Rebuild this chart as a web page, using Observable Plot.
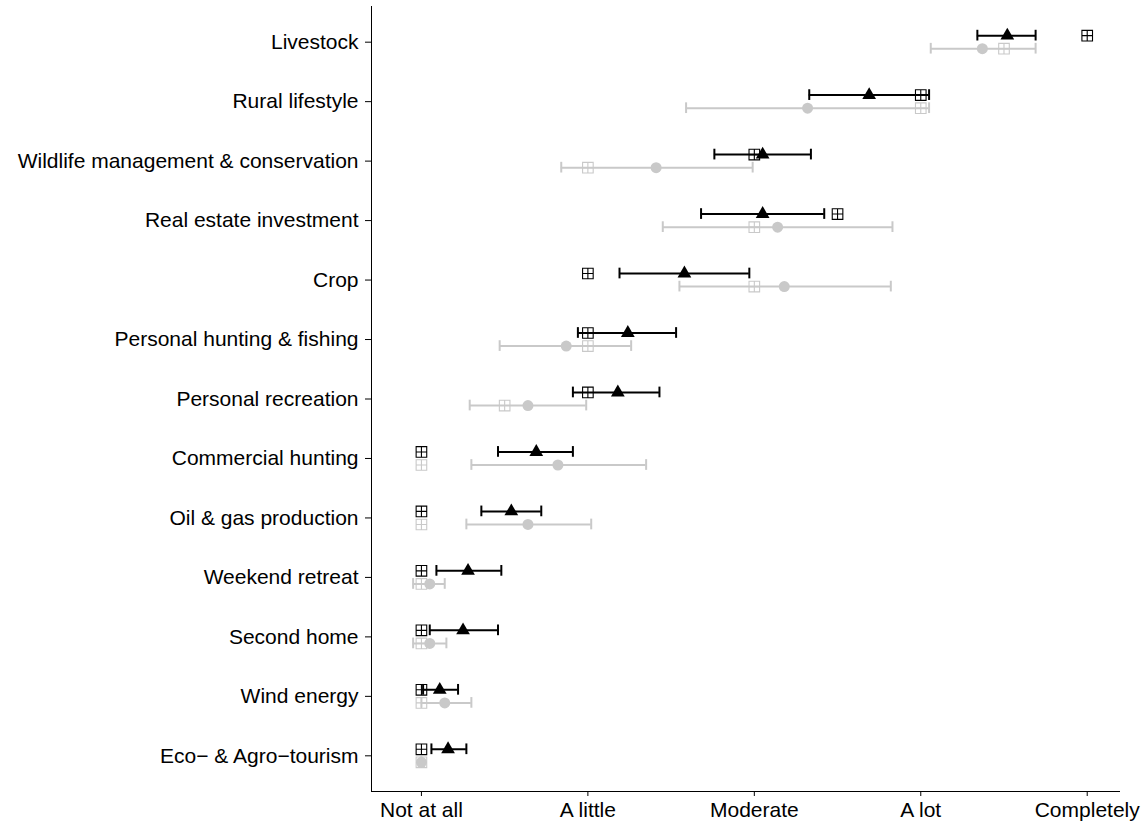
<!DOCTYPE html>
<html>
<head>
<meta charset="utf-8">
<script src="https://cdn.jsdelivr.net/npm/d3@7"></script>
<script src="https://cdn.jsdelivr.net/npm/@observablehq/plot@0.6"></script>
<style>
  html, body { margin: 0; padding: 0; background: #fff; }
  #chart svg { display: block; }
</style>
</head>
<body>
<div id="chart"></div>
<script>
// ---- Data ----
const categories = [
  "Livestock",
  "Rural lifestyle",
  "Wildlife management & conservation",
  "Real estate investment",
  "Crop",
  "Personal hunting & fishing",
  "Personal recreation",
  "Commercial hunting",
  "Oil & gas production",
  "Weekend retreat",
  "Second home",
  "Wind energy",
  "Eco\u2212 & Agro\u2212tourism"
];
const xTickLabels = ["Not at all", "A little", "Moderate", "A lot", "Completely"];

// Black series (triangle mean, error bar, square-plus median)
const blackMean   = [3.52, 2.69, 2.05, 2.05, 1.58, 1.24, 1.18, 0.69, 0.54, 0.28, 0.25, 0.11, 0.16];
const blackLow    = [3.34, 2.33, 1.76, 1.68, 1.19, 0.94, 0.91, 0.46, 0.36, 0.09, 0.05, 0.01, 0.06];
const blackHigh   = [3.69, 3.05, 2.34, 2.42, 1.97, 1.53, 1.43, 0.91, 0.72, 0.48, 0.46, 0.22, 0.27];
const blackMedian = [4.0, 3.0, 2.0, 2.5, 1.0, 1.0, 1.0, 0, 0, 0, 0, 0, 0];

// Grey series (circle mean, error bar, square-plus median)
const greyMean   = [3.37, 2.32, 1.41, 2.14, 2.18, 0.87, 0.64, 0.82, 0.64, 0.05, 0.05, 0.14, 0.0];
const greyLow    = [3.06, 1.59, 0.84, 1.45, 1.55, 0.47, 0.29, 0.30, 0.27, -0.05, -0.05, 0.0, 0.0];
const greyHigh   = [3.69, 3.05, 1.99, 2.83, 2.82, 1.26, 0.99, 1.35, 1.02, 0.14, 0.15, 0.30, 0.0];
const greyMedian = [3.5, 3.0, 1.0, 2.0, 2.0, 1.0, 0.5, 0, 0, 0, 0, 0, 0];

// ---- Build tables ----
const BLACK = "#000000";
const GREY = "#c9c9c9";
const OFF = 0.11;   // vertical dodge in category units
const CAP = 0.09;   // half-height of error bar caps

const blackRows = categories.map((c, i) => ({
  cat: c, idx: i, y: i - OFF,
  mean: blackMean[i], lo: blackLow[i], hi: blackHigh[i], median: blackMedian[i]
}));
const greyRows = categories.map((c, i) => ({
  cat: c, idx: i, y: i + OFF,
  mean: greyMean[i], lo: greyLow[i], hi: greyHigh[i], median: greyMedian[i]
}));

// Square with a cross (like R pch 12)
const squarePlus = {
  draw(ctx, size) {
    const h = Math.sqrt(size / Math.PI);
    ctx.moveTo(-h, -h); ctx.lineTo(h, -h); ctx.lineTo(h, h); ctx.lineTo(-h, h); ctx.closePath();
    ctx.moveTo(0, -h); ctx.lineTo(0, h);
    ctx.moveTo(-h, 0); ctx.lineTo(h, 0);
  }
};

function seriesMarks(rows, color, meanSymbol, meanR) {
  return [
    Plot.dot(rows, {x: "median", y: "y", symbol: squarePlus, r: 5.3, stroke: color, fill: "none", strokeWidth: 1.1}),
    Plot.ruleY(rows, {y: "y", x1: "lo", x2: "hi", stroke: color, strokeWidth: 2}),
    Plot.ruleX(rows, {x: "lo", y1: d => d.y - CAP, y2: d => d.y + CAP, stroke: color, strokeWidth: 2}),
    Plot.ruleX(rows, {x: "hi", y1: d => d.y - CAP, y2: d => d.y + CAP, stroke: color, strokeWidth: 2}),
    Plot.dot(rows, {x: "mean", y: "y", symbol: meanSymbol, r: meanR, fill: color, stroke: "none"})
  ];
}

const chart = Plot.plot({
  width: 1145,
  height: 824,
  marginLeft: 371,
  marginRight: 25,
  marginTop: 6,
  marginBottom: 33,
  style: {fontFamily: "'Liberation Sans', Arial, Helvetica, sans-serif", fontSize: "21px", color: "#000", background: "#fff"},
  x: {
    domain: [-0.3, 4.2],
    ticks: [0, 1, 2, 3, 4],
    tickFormat: d => xTickLabels[d],
    tickSize: 5,
    tickPadding: 6,
    label: null
  },
  y: {
    domain: [-0.6, categories.length - 0.4],
    reverse: true,
    ticks: d3.range(categories.length),
    tickFormat: d => categories[d],
    tickSize: 6,
    tickPadding: 7,
    label: null
  },
  marks: [
    Plot.ruleX([-0.3], {stroke: "#000", strokeWidth: 1}),
    Plot.ruleY([categories.length - 0.4], {stroke: "#000", strokeWidth: 1}),
    ...seriesMarks(greyRows, GREY, "circle", 5.5),
    ...seriesMarks(blackRows, BLACK, "triangle", 5.1)
  ]
});

document.getElementById("chart").appendChild(chart);
</script>
</body>
</html>
